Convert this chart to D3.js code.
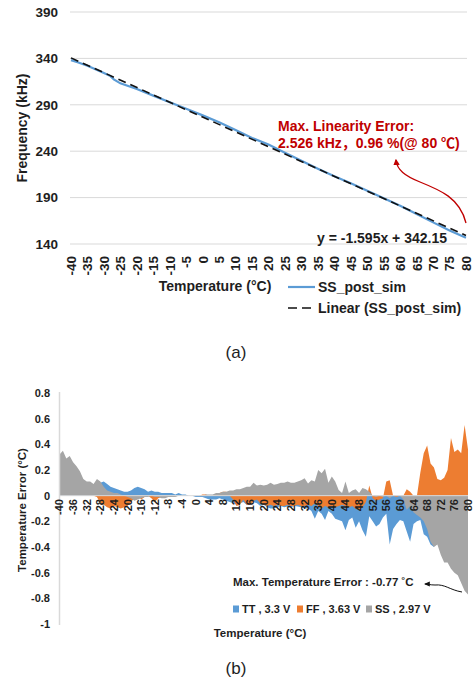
<!DOCTYPE html>
<html>
<head>
<meta charset="utf-8">
<script src="https://cdn.jsdelivr.net/npm/d3@7"></script>
<style>
  body { margin: 0; background: #fff; }
  text { font-family: "Liberation Sans", Arial, "Noto Sans CJK SC", sans-serif; }
</style>
</head>
<body>
<div id="chart"></div>
<script>
// (a) frequency vs temperature
var tempA = [-40, -38, -35, -30, -28, -27, -25, -20, -15, -10, -5, 0, 5, 10, 15, 20, 25, 30, 35, 40, 45, 50, 55, 60, 65, 70, 75, 80];
var freqA = [338.1, 335.9, 332.0, 324.3, 320.9, 317.3, 313.1, 307.1, 299.9, 292.7, 285.7, 278.6, 271.1, 262.8, 254.3, 247.2, 238.4, 229.7, 221.2, 212.9, 205.4, 197.5, 189.2, 181.1, 172.3, 163.3, 154.5, 146.7];
var trendSlope = -1.595, trendIntercept = 342.15;
var yTicksA = [140, 190, 240, 290, 340, 390];
var xTicksA = [-40, -35, -30, -25, -20, -15, -10, -5, 0, 5, 10, 15, 20, 25, 30, 35, 40, 45, 50, 55, 60, 65, 70, 75, 80];

// (b) temperature error per corner, one value per degree from -40 to 80
var tempB = d3.range(-40, 81);
var errTT = [
  0.08, 0.1, 0.09, 0.08, 0.07, 0.06, 0.07, 0.06, 0.05, 0.06,
  0.07, 0.08, 0.1, 0.11, 0.09, 0.07, 0.06, 0.05, 0.04, 0.03,
  0.03, 0.04, 0.06, 0.07, 0.06, 0.05, 0.03, 0.04, 0.03, 0.03,
  0.02, 0.02, 0.02, 0.02, 0.01, 0.02, 0.01, 0.01, 0.0, 0.0,
  -0.01, -0.01, -0.01, -0.02, -0.03, -0.03, -0.03, -0.02, -0.03, -0.04,
  -0.05, -0.06, -0.07, -0.06, -0.05, -0.07, -0.06, -0.05, -0.06, -0.08,
  -0.07, -0.09, -0.1, -0.1, -0.09, -0.08, -0.09, -0.085, -0.09, -0.08,
  -0.085, -0.09, -0.1, -0.1, -0.12, -0.18, -0.12, -0.14, -0.19, -0.12,
  -0.14, -0.18, -0.19, -0.2, -0.27, -0.19, -0.17, -0.25, -0.2, -0.27,
  -0.32, -0.16, -0.2, -0.24, -0.22, -0.17, -0.14, -0.38, -0.26, -0.22,
  -0.19, -0.2, -0.28, -0.36, -0.22, -0.2, -0.19, -0.3, -0.32, -0.38,
  -0.4, -0.3, -0.3, -0.3, -0.3, -0.3, -0.3, -0.3, -0.3, -0.3, -0.3
];
var errFF = [
  0, 0, 0, 0, 0, 0, 0, 0, 0, 0,
  0, -0.01, -0.06, -0.07, -0.09, -0.1, -0.08, -0.09, -0.1, -0.09,
  -0.08, -0.05, -0.02, 0, -0.03, -0.01, 0, -0.02, -0.05, -0.02,
  -0.01, -0.01, 0, 0, 0, 0, 0, 0, 0, 0,
  0, 0, 0.01, 0.01, 0, 0, 0.01, 0.02, 0.03, 0.03,
  0, -0.03, -0.08, -0.07, -0.03, -0.07, -0.07, -0.04, -0.03, -0.06,
  -0.07, -0.08, -0.07, -0.08, -0.07, -0.08, -0.08, -0.07, -0.08, -0.08,
  -0.07, -0.08, -0.08, -0.07, -0.08, -0.06, -0.08, -0.1, -0.08, -0.09,
  -0.08, -0.09, -0.08, -0.07, -0.08, -0.09, -0.08, -0.1, -0.11, -0.09,
  -0.05, 0.08, -0.02, -0.04, -0.03, -0.02, 0.11, 0.12, 0.0, -0.01,
  0.0, 0.0, 0.05, 0.03, 0.0, 0.0, 0.18, 0.33, 0.39, 0.25,
  0.22, 0.13, 0.12, 0.14, 0.2, 0.45, 0.34, 0.36, 0.33, 0.55, 0.36
];
var errSS = [
  0.32, 0.35, 0.29, 0.31, 0.26, 0.23, 0.19, 0.13, 0.11, 0.11,
  0.09, 0.13, 0.11, 0.07, 0.04, 0.03, 0.02, 0.02, 0.01, 0.0,
  -0.01, -0.02, -0.04, -0.03, -0.02, -0.01, -0.01, 0.0, -0.01, -0.01,
  -0.02, -0.02, -0.01, -0.01, -0.01, 0, 0, 0, 0, 0,
  0, 0, 0, 0.01, 0.01, 0.01, 0.02, 0.02, 0.03, 0.03,
  0.04, 0.04, 0.05, 0.05, 0.06, 0.07, 0.07, 0.1, 0.08, 0.085,
  0.08, 0.085, 0.1, 0.085, 0.09, 0.1, 0.1, 0.11, 0.1, 0.1,
  0.11, 0.12, 0.135, 0.095, 0.12, 0.11, 0.2, 0.175, 0.21, 0.1,
  0.15, 0.11, 0.045, 0.02, 0.11, 0.02, 0.04, 0.05, 0.02, 0.06,
  0.05, 0.03, 0.0, -0.01, 0.0, -0.01, 0.0, -0.02, 0.0, 0.0,
  0.0, -0.03, -0.11, -0.08, -0.13, -0.15, -0.17, -0.2, -0.26, -0.36,
  -0.4, -0.38, -0.46, -0.52, -0.52, -0.57, -0.6, -0.62, -0.68, -0.74, -0.77
];
var seriesB = [
  {name: "TT , 3.3 V", values: errTT, color: "#5B9BD5"},
  {name: "FF , 3.63 V", values: errFF, color: "#ED7D31"},
  {name: "SS , 2.97 V", values: errSS, color: "#A5A5A5"}
];
var yTicksB = [0.8, 0.6, 0.4, 0.2, 0, -0.2, -0.4, -0.6, -0.8, -1];
var xTicksB = d3.range(-40, 81, 4);

var width = 473, height = 689;
var ink = "#1e1e1e", grid = "#d9d9d9";

var svg = d3.select("#chart").append("svg")
  .attr("width", width)
  .attr("height", height);

svg.append("rect").attr("width", width).attr("height", height).attr("fill", "#fff");

// ---------- chart (a) ----------
var xA = d3.scaleLinear().domain([-40, 80]).range([71, 466]);
var yA = d3.scaleLinear().domain([140, 390]).range([244, 12]);

var ga = svg.append("g");

ga.selectAll(".gridA").data(yTicksA).enter().append("line")
  .attr("x1", 70).attr("x2", 467)
  .attr("y1", function(d) { return yA(d); })
  .attr("y2", function(d) { return yA(d); })
  .attr("stroke", grid).attr("stroke-width", 1);

ga.selectAll(".ytA").data(yTicksA).enter().append("text")
  .attr("x", 58).attr("y", function(d) { return yA(d); })
  .attr("dy", "0.36em")
  .attr("text-anchor", "end")
  .attr("font-size", "13.5px").attr("font-weight", "bold").attr("fill", ink)
  .text(function(d) { return d; });

ga.selectAll(".xtA").data(xTicksA).enter().append("text")
  .attr("transform", function(d) { return "translate(" + xA(d) + ",256) rotate(-90)"; })
  .attr("dy", "0.36em")
  .attr("text-anchor", "end")
  .attr("font-size", "13.5px").attr("font-weight", "bold").attr("fill", ink)
  .text(function(d) { return d; });

ga.append("text")
  .attr("transform", "translate(27," + yA(265) + ") rotate(-90)")
  .attr("text-anchor", "middle")
  .attr("font-size", "14px").attr("font-weight", "bold").attr("fill", ink)
  .text("Frequency (kHz)");

ga.append("text")
  .attr("x", 215).attr("y", 291)
  .attr("text-anchor", "middle")
  .attr("font-size", "14px").attr("font-weight", "bold").attr("fill", ink)
  .text("Temperature (°C)");

// data line and linear trend
var lineA = d3.line()
  .x(function(d, i) { return xA(tempA[i]); })
  .y(function(d) { return yA(d); });

ga.append("path")
  .attr("d", lineA(freqA))
  .attr("fill", "none").attr("stroke", "#5B9BD5").attr("stroke-width", 2.2);

var trendEnds = [-40, 80];
ga.append("path")
  .attr("d", d3.line()
    .x(function(t) { return xA(t); })
    .y(function(t) { return yA(trendSlope * (t + 41) + trendIntercept); })(trendEnds))
  .attr("fill", "none").attr("stroke", "#111").attr("stroke-width", 1.6)
  .attr("stroke-dasharray", "8,5");

ga.append("text")
  .attr("x", 447).attr("y", 243)
  .attr("text-anchor", "end")
  .attr("font-size", "14px").attr("font-weight", "bold").attr("fill", ink)
  .text("y = -1.595x + 342.15");

// red annotation
var red = "#C00000";
ga.append("text")
  .attr("x", 278).attr("y", 131)
  .attr("font-size", "14px").attr("font-weight", "bold").attr("fill", red)
  .text("Max. Linearity Error:");
ga.append("text")
  .attr("x", 278).attr("y", 148)
  .attr("font-size", "14px").attr("font-weight", "bold").attr("fill", red)
  .text("2.526 kHz，0.96 %(@ 80 ℃)");

var defs = svg.append("defs");
defs.append("marker").attr("id", "headRed")
  .attr("viewBox", "0 0 10 10").attr("refX", 8).attr("refY", 5)
  .attr("markerWidth", 5).attr("markerHeight", 5).attr("orient", "auto")
  .append("path").attr("d", "M0,0L10,5L0,10Z").attr("fill", red);
defs.append("marker").attr("id", "headBlack")
  .attr("viewBox", "0 0 10 10").attr("refX", 8).attr("refY", 5)
  .attr("markerWidth", 6).attr("markerHeight", 6).attr("orient", "auto")
  .append("path").attr("d", "M0,1L10,5L0,9Z").attr("fill", "#111");

ga.append("path")
  .attr("d", "M466,223C460,198 440,190 420,182C405,176 397,170 396,160")
  .attr("fill", "none").attr("stroke", red).attr("stroke-width", 1.3)
  .attr("marker-end", "url(#headRed)");

// legend (a)
ga.append("line").attr("x1", 288).attr("x2", 315).attr("y1", 287).attr("y2", 287)
  .attr("stroke", "#5B9BD5").attr("stroke-width", 2.2);
ga.append("text").attr("x", 318).attr("y", 292)
  .attr("font-size", "14px").attr("font-weight", "bold").attr("fill", ink)
  .text("SS_post_sim");
ga.append("line").attr("x1", 288).attr("x2", 315).attr("y1", 308).attr("y2", 308)
  .attr("stroke", "#111").attr("stroke-width", 1.6).attr("stroke-dasharray", "9,5");
ga.append("text").attr("x", 318).attr("y", 313)
  .attr("font-size", "14px").attr("font-weight", "bold").attr("fill", ink)
  .text("Linear (SS_post_sim)");

svg.append("text")
  .attr("x", 236).attr("y", 358)
  .attr("text-anchor", "middle")
  .attr("font-family", "Liberation Serif, serif")
  .attr("font-size", "17px").attr("fill", ink)
  .text("(a)");

// ---------- chart (b) ----------
var xB = d3.scaleLinear().domain([-40, 80]).range([59.5, 468]);
var yB = d3.scaleLinear().domain([-1, 0.8]).range([624, 393]);

var gb = svg.append("g");

var areaB = d3.area()
  .x(function(d, i) { return xB(tempB[i]); })
  .y0(yB(0))
  .y1(function(d) { return yB(d); });

gb.selectAll(".areaB").data(seriesB).enter().append("path")
  .attr("d", function(s) { return areaB(s.values); })
  .attr("fill", function(s) { return s.color; });

gb.append("line")
  .attr("x1", 59.5).attr("x2", 59.5).attr("y1", 392).attr("y2", 625)
  .attr("stroke", grid).attr("stroke-width", 1.5);
gb.append("line")
  .attr("x1", 59.5).attr("x2", 468).attr("y1", yB(0)).attr("y2", yB(0))
  .attr("stroke", grid).attr("stroke-width", 1);

gb.selectAll(".ytB").data(yTicksB).enter().append("text")
  .attr("x", 50).attr("y", function(d) { return yB(d); })
  .attr("dy", "0.36em")
  .attr("text-anchor", "end")
  .attr("font-size", "11px").attr("font-weight", "bold").attr("fill", ink)
  .text(function(d) { return d; });

gb.selectAll(".xtB").data(xTicksB).enter().append("text")
  .attr("transform", function(d) { return "translate(" + xB(d) + ",499) rotate(-90)"; })
  .attr("dy", "0.36em")
  .attr("text-anchor", "end")
  .attr("font-size", "11px").attr("font-weight", "bold").attr("fill", ink)
  .text(function(d) { return d; });

gb.append("text")
  .attr("transform", "translate(26,510) rotate(-90)")
  .attr("text-anchor", "middle")
  .attr("font-size", "11.5px").attr("font-weight", "bold").attr("fill", ink)
  .text("Temperature Error (°C)");

gb.append("text")
  .attr("x", 260).attr("y", 637)
  .attr("text-anchor", "middle")
  .attr("font-size", "11.5px").attr("font-weight", "bold").attr("fill", ink)
  .text("Temperature (°C)");

gb.append("text")
  .attr("x", 233).attr("y", 586)
  .attr("font-size", "11.5px").attr("font-weight", "bold").attr("fill", ink)
  .text("Max. Temperature Error : -0.77 ˚C");

gb.append("path")
  .attr("d", "M462,592C450,590 445,584 435,585C430,585 428,584 425,584")
  .attr("fill", "none").attr("stroke", "#111").attr("stroke-width", 1)
  .attr("marker-end", "url(#headBlack)");

// legend (b)
var legX = [233, 297, 366];
var leg = gb.selectAll(".legB").data(seriesB).enter().append("g")
  .attr("transform", function(s, i) { return "translate(" + legX[i] + ",609)"; });
leg.append("rect").attr("x", 0).attr("y", -3.5).attr("width", 6).attr("height", 7)
  .attr("fill", function(s) { return s.color; });
leg.append("text").attr("x", 9).attr("y", 4)
  .attr("font-size", "11px").attr("font-weight", "bold").attr("fill", ink)
  .text(function(s) { return s.name; });

svg.append("text")
  .attr("x", 236).attr("y", 674)
  .attr("text-anchor", "middle")
  .attr("font-family", "Liberation Serif, serif")
  .attr("font-size", "17px").attr("fill", ink)
  .text("(b)");
</script>
</body>
</html>
